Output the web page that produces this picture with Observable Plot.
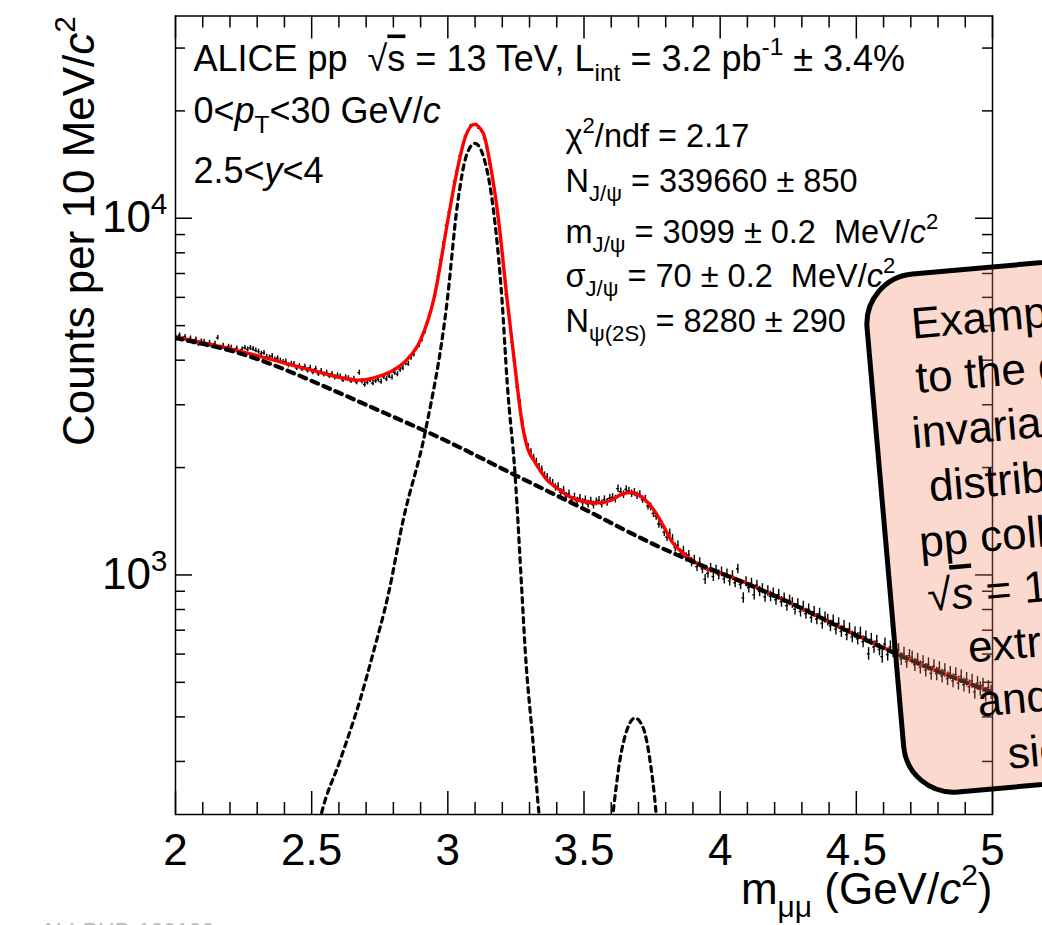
<!DOCTYPE html>
<html><head><meta charset="utf-8">
<script src="https://cdn.jsdelivr.net/npm/d3@7"></script>
<script src="https://cdn.jsdelivr.net/npm/@observablehq/plot@0.6"></script>
<style>
html,body{margin:0;padding:0;background:#fff;overflow:hidden;}
#chart{position:relative;width:1042px;height:925px;overflow:hidden;}
#chart svg{overflow:hidden;display:block;}
</style></head><body><div id="chart"></div>
<script>
const FONT = "'Liberation Sans', Arial, Helvetica, sans-serif";

// ---- data: dimuon invariant-mass histogram, 10 MeV/c^2 bins from 2 to 5 GeV/c^2
const binStart = 2.0, binWidth = 0.01;
const counts = [
  4598, 4702, 4575, 4651, 4530, 4608, 4489, 4577, 4436, 4521,
  4512, 4398, 4480, 4371, 4455, 4623, 4340, 4395, 4290, 4368,
  4342, 4251, 4318, 4199, 4287, 4335, 4290, 4330, 4301, 4262,
  4228, 4170, 4195, 4090, 4071, 4110, 4022, 4051, 3990, 3957,
  3965, 3872, 3910, 3901, 3803, 3851, 3780, 3835, 3742, 3810,
  3701, 3785, 3662, 3730, 3648, 3690, 3612, 3660, 3581, 3625,
  3601, 3522, 3580, 3560, 3498, 3545, 3470, 3690, 3488, 3420,
  3466, 3520, 3448, 3502, 3530, 3481, 3590, 3544, 3612, 3580,
  3690, 3655, 3760, 3801, 3920, 3905, 4060, 4150, 4318, 4402,
  4560, 4790, 5080, 5390, 5760, 6250, 6880, 7650, 8580, 9550,
  10420, 11310, 12680, 13620, 14980, 15900, 16990, 17520, 18210, 18260,
  18330, 17880, 17560, 16720, 15780, 14190, 12980, 11420, 10130, 8620,
  7350, 6110, 5390, 4490, 3990, 3360, 3050, 2680, 2430, 2290,
  2210, 2135, 2080, 2010, 1975, 1902, 1880, 1835, 1810, 1760,
  1770, 1705, 1730, 1662, 1690, 1621, 1655, 1610, 1640, 1596,
  1625, 1580, 1610, 1571, 1603, 1618, 1580, 1626, 1598, 1640,
  1650, 1632, 1745, 1712, 1680, 1738, 1721, 1690, 1705, 1668,
  1681, 1625, 1632, 1560, 1552, 1488, 1462, 1390, 1382, 1318,
  1276, 1310, 1262, 1195, 1211, 1148, 1170, 1120, 1138, 1087,
  1102, 1055, 1084, 1040, 972, 1010, 1045, 990, 1032, 1001,
  1021, 975, 1008, 962, 996, 951, 1040, 940, 862, 958,
  921, 948, 880, 936, 899, 915, 868, 902, 871, 889,
  852, 880, 841, 861, 820, 849, 835, 801, 829, 790,
  815, 779, 801, 760, 788, 752, 779, 731, 760, 748,
  720, 745, 705, 731, 694, 718, 680, 706, 671, 690,
  662, 688, 650, 671, 601, 660, 628, 652, 618, 590,
  640, 598, 628, 612, 590, 617, 581, 602, 571, 594,
  588, 560, 579, 551, 570, 541, 562, 530, 555, 528,
  548, 521, 540, 512, 531, 505, 526, 498, 519, 492,
  510, 486, 504, 470, 497, 480, 491, 462, 484, 469
];

// total fit (red)
const fitMass = [2.00, 2.10, 2.20, 2.30, 2.40, 2.50, 2.60, 2.67, 2.75, 2.80, 2.85, 2.90, 2.95, 3.00, 3.034, 3.064, 3.097, 3.130, 3.155, 3.185, 3.218, 3.245, 3.275, 3.295, 3.315, 3.345, 3.364, 3.40, 3.449, 3.50, 3.55, 3.60, 3.635, 3.67, 3.705, 3.75, 3.79, 3.826, 3.863, 3.90, 3.95, 4.00, 4.25, 4.50, 4.75, 5.00];
const fitCounts = [4645, 4477, 4305, 4121, 3926, 3750, 3581, 3516, 3610, 3750, 4015, 4560, 6000, 9860, 13600, 16870, 18330, 17300, 14260, 10060, 5890, 3925, 2600, 2240, 2100, 1932, 1846, 1755, 1653, 1604, 1592, 1620, 1680, 1703, 1668, 1545, 1380, 1230, 1153, 1095, 1040, 1013, 840, 678, 556, 470];

// background (thick dashed)
const bkgMass = [2.00, 2.25, 2.50, 2.75, 3.00, 3.25, 3.50, 3.75, 4.00, 4.25, 4.50, 4.75, 5.00];
const bkgCounts = [4616, 4150, 3500, 2885, 2365, 1900, 1530, 1225, 1013, 840, 677, 556, 468];

// J/psi signal (dashed)
const jpsiMass = [2.52, 2.535, 2.605, 2.678, 2.726, 2.781, 2.836, 2.917, 2.998, 3.034, 3.071, 3.100, 3.144, 3.166, 3.199, 3.218, 3.247, 3.273, 3.284, 3.313, 3.335, 3.345];
const jpsiCounts = [190, 213, 303, 447, 605, 879, 1425, 2518, 5893, 10740, 15210, 16220, 13620, 10740, 5890, 3450, 1905, 867, 617, 338, 213, 180];

// psi(2S) signal (dashed)
const psi2sMass = [3.595, 3.606, 3.632, 3.658, 3.687, 3.716, 3.742, 3.764, 3.772];
const psi2sCounts = [180, 213, 303, 368, 397, 375, 303, 217, 180];

// axes
const xMajorTicks = [2, 2.5, 3, 3.5, 4, 4.5, 5];
const xTickLabels = ["2", "2.5", "3", "3.5", "4", "4.5", "5"];
const xMinorTicks = [2.1, 2.2, 2.3, 2.4, 2.6, 2.7, 2.8, 2.9, 3.1, 3.2, 3.3, 3.4, 3.6, 3.7, 3.8, 3.9, 4.1, 4.2, 4.3, 4.4, 4.6, 4.7, 4.8, 4.9];
const yMajorTicks = [1000, 10000];
const yTickLabels = ["10^{3}", "10^{4}"];
const yMinorTicks = [300, 400, 500, 600, 700, 800, 900, 2000, 3000, 4000, 5000, 6000, 7000, 8000, 9000, 20000, 30000];

// texts (ROOT-like markup: _{sub} ^{sup} #it{italic} #ol{overline})
const infoLines = ["ALICE pp  √#ol{s} = 13 TeV, L_{int} = 3.2 pb^{-1} ± 3.4%", "0<#it{p}_{T}<30 GeV/#it{c}", "2.5<#it{y}<4"];
const fitLines = ["χ^{2}/ndf = 2.17", "N_{J/ψ} = 339660 ± 850", "m_{J/ψ} = 3099 ± 0.2  MeV/#it{c}^{2}", "σ_{J/ψ} = 70 ± 0.2  MeV/#it{c}^{2}", "N_{ψ(2S)} = 8280 ± 290"];
const xTitle = "m_{μμ} (GeV/#it{c}^{2})";
const yTitle = "Counts per 10 MeV/#it{c}^{2}";
const pubLabel = "ALI-PUB-100100";
const noteLines = ["Example of fit", "to the dimuon", "invariant mass", "distribution in", "pp collisions at", "√#oli{s} = 13 TeV to", "extract J/ψ", "and ψ(2S)", "signals."];

// ---- layout
const W = 1042, H = 925, mL = 175, mR = 50, mT = 15.5, mB = 111;
const frameW = W - mL - mR, frameH = H - mT - mB;
const infoBase = [70, 122, 182];
const fitBase = [146, 191, 242, 286, 331];

const bins = counts.map((c, i) => ({
  lo: binStart + i * binWidth,
  hi: binStart + (i + 1) * binWidth,
  x: binStart + (i + 0.5) * binWidth,
  c, e: Math.sqrt(c)
}));
const zip = (xs, ys) => xs.map((x, i) => ({x, y: ys[i]}));

function label(t, o) {
  return Plot.text([t], {
    text: d => d, fontSize: o.size, frameAnchor: o.anchor, dx: o.dx ?? 0, dy: o.dy ?? 0,
    textAnchor: o.textAnchor ?? "start", lineAnchor: "bottom", rotate: o.rotate ?? 0,
    fill: o.fill ?? "black"
  });
}

const tk = {stroke: "black", strokeWidth: 1.5};

const plot = Plot.plot({
  width: W, height: H, marginLeft: mL, marginRight: mR, marginTop: mT, marginBottom: mB,
  style: {fontFamily: FONT, background: "white", overflow: "hidden"},
  x: {domain: [2, 5], axis: null},
  y: {type: "log", domain: [213, 36900], axis: null},
  marks: [
    Plot.ruleX(bins, {x: "x", y1: d => d.c - d.e, y2: d => d.c + d.e, stroke: "black", strokeWidth: 1.4, clip: true}),
    Plot.ruleY(bins, {y: "c", x1: "lo", x2: "hi", stroke: "black", strokeWidth: 1.4, clip: true}),
    Plot.line(zip(fitMass, fitCounts), {x: "x", y: "y", stroke: "#ff0000", strokeWidth: 3.4, curve: "monotone-x", clip: true}),
    Plot.line(zip(bkgMass, bkgCounts), {x: "x", y: "y", stroke: "black", strokeWidth: 4.2, strokeDasharray: "7,6", curve: "natural", clip: true}),
    Plot.line(zip(jpsiMass, jpsiCounts), {x: "x", y: "y", stroke: "black", strokeWidth: 3.2, strokeDasharray: "5,5", curve: "monotone-x", clip: true}),
    Plot.line(zip(psi2sMass, psi2sCounts), {x: "x", y: "y", stroke: "black", strokeWidth: 3.2, strokeDasharray: "5,5", curve: "monotone-x", clip: true}),
    Plot.frame({stroke: "black", strokeWidth: 1.5}),
    Plot.tickX(xMajorTicks, {x: d => d, insetTop: frameH - 23, ...tk}),
    Plot.tickX(xMajorTicks, {x: d => d, insetBottom: frameH - 23, ...tk}),
    Plot.tickX(xMinorTicks, {x: d => d, insetTop: frameH - 12, ...tk}),
    Plot.tickX(xMinorTicks, {x: d => d, insetBottom: frameH - 12, ...tk}),
    Plot.tickY(yMajorTicks, {y: d => d, insetRight: frameW - 17, ...tk}),
    Plot.tickY(yMajorTicks, {y: d => d, insetLeft: frameW - 17, ...tk}),
    Plot.tickY(yMinorTicks, {y: d => d, insetRight: frameW - 10, ...tk}),
    Plot.tickY(yMinorTicks, {y: d => d, insetLeft: frameW - 10, ...tk}),
    Plot.text(xMajorTicks, {x: d => d, text: (d, i) => xTickLabels[i], frameAnchor: "bottom", dy: 50, lineAnchor: "bottom", fontSize: 44, fill: "black"}),
    Plot.text(yMajorTicks, {y: d => d, text: (d, i) => yTickLabels[i], frameAnchor: "left", dx: -8, textAnchor: "end", lineAnchor: "middle", fontSize: 44, fill: "black"}),
    label(xTitle, {anchor: "bottom-right", dy: 89, textAnchor: "end", size: 44}),
    label(yTitle, {anchor: "top-left", dx: -82, dy: 0, textAnchor: "end", rotate: -90, size: 44}),
    ...infoLines.map((t, i) => label(t, {anchor: "top-left", dx: 18, dy: infoBase[i] - mT, size: 36})),
    ...fitLines.map((t, i) => label(t, {anchor: "top-left", dx: 390, dy: fitBase[i] - mT, size: 32.5})),
    label(pubLabel, {anchor: "bottom-left", dx: -135, dy: 125, size: 23, fill: "#bbbbbb"})
  ]
});

document.getElementById("chart").appendChild(plot);

// annotation box (overlay)
const BOX = {x: 860, y: 276, w: 360, h: 525, angle: -5, r: 50, base: 67, step: 54.6, size: 44};
const g = d3.select(plot).append("g").attr("transform", `translate(${BOX.x},${BOX.y}) rotate(${BOX.angle})`);
g.append("rect").attr("x", 2.5).attr("y", 2.5).attr("width", BOX.w - 5).attr("height", BOX.h - 5)
  .attr("rx", BOX.r).attr("ry", BOX.r)
  .attr("fill", "rgb(245,128,95)").attr("fill-opacity", 0.3)
  .attr("stroke", "black").attr("stroke-width", 5);
noteLines.forEach((t, i) => {
  g.append("text").attr("x", BOX.w / 2).attr("y", BOX.base + BOX.step * i)
    .attr("text-anchor", "middle").attr("font-size", BOX.size).attr("font-family", FONT)
    .attr("fill", "black").text(t);
});

// rich text: sub/superscripts, italics, overline
const SVGNS = "http://www.w3.org/2000/svg";
function richify(el) {
  const src = el.textContent;
  if (!/(_\{|\^\{|#it\{|#ol\{|#oli\{)/.test(src)) return;
  const size = parseFloat(getComputedStyle(el).fontSize) || 20;
  const re = /(_\{[^}]*\}|\^\{[^}]*\}|#it\{[^}]*\}|#oli\{[^}]*\}|#ol\{[^}]*\})/g;
  const parts = src.split(re).filter(s => s !== "" && s !== undefined);
  el.textContent = "";
  let shift = 0;
  for (const p of parts) {
    let mode = "n", t = p;
    if (p.startsWith("_{")) { mode = "sub"; t = p.slice(2, -1); }
    else if (p.startsWith("^{")) { mode = "sup"; t = p.slice(2, -1); }
    else if (p.startsWith("#it{")) { mode = "it"; t = p.slice(4, -1); }
    else if (p.startsWith("#oli{")) { mode = "oli"; t = p.slice(5, -1); }
    else if (p.startsWith("#ol{")) { mode = "ol"; t = p.slice(4, -1); }
    const target = mode === "sub" ? 0.3 * size : mode === "sup" ? -0.42 * size : 0;
    const ts = document.createElementNS(SVGNS, "tspan");
    if (target !== shift) { ts.setAttribute("dy", (target - shift).toFixed(2)); shift = target; }
    if (mode === "sub" || mode === "sup") ts.setAttribute("font-size", (0.68 * size).toFixed(2));
    if (mode === "it" || mode === "oli") ts.setAttribute("font-style", "italic");
    if (mode === "ol" || mode === "oli") ts.style.textDecoration = "overline";
    ts.textContent = t;
    el.appendChild(ts);
  }
}
plot.querySelectorAll("text").forEach(richify);
</script>
</body></html>
